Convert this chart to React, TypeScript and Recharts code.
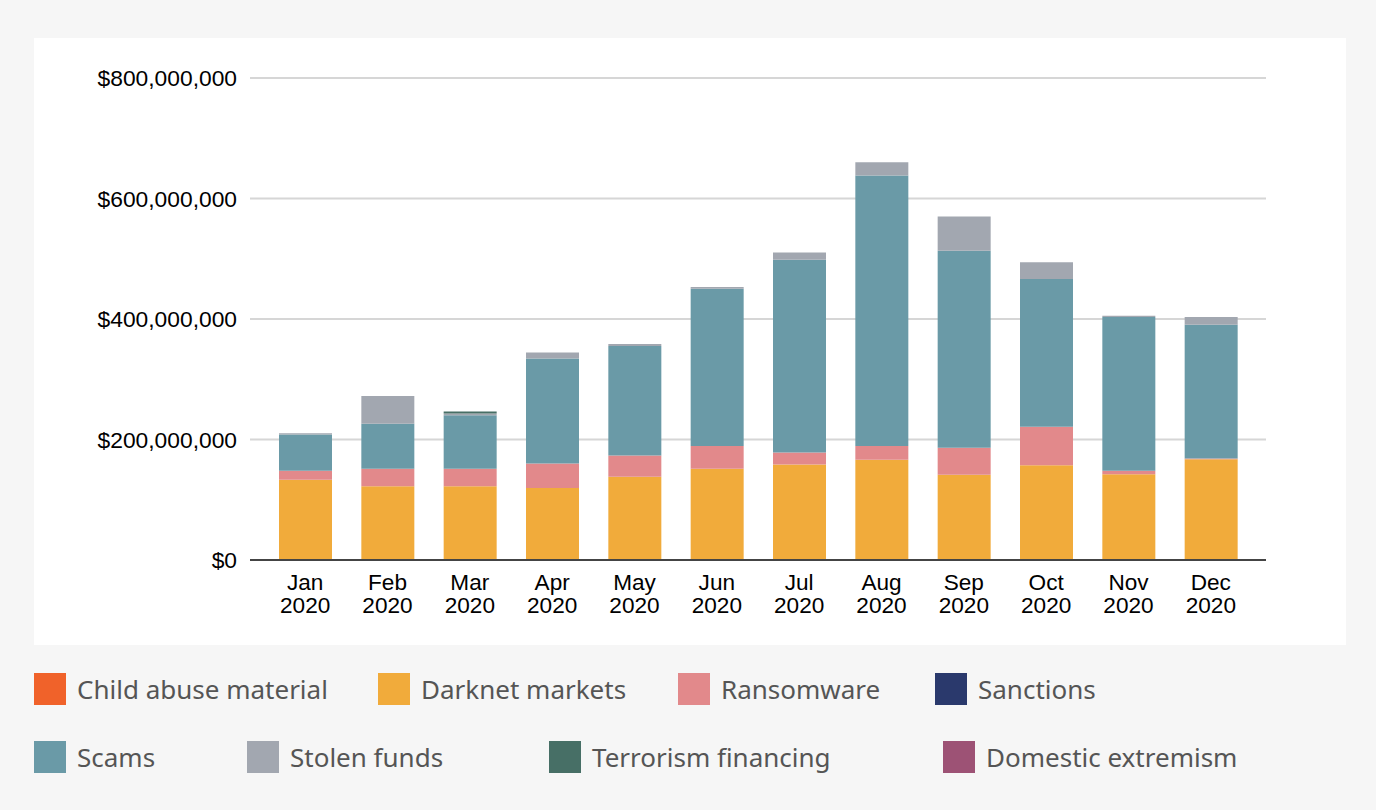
import { BarChart, Bar, XAxis, YAxis, CartesianGrid } from "recharts";

// monthly value received by illicit addresses, in millions of USD
const months = ["Jan", "Feb", "Mar", "Apr", "May", "Jun", "Jul", "Aug", "Sep", "Oct", "Nov", "Dec"];
const year = "2020";

const childAbuse = [0.3, 0.3, 0.3, 0.3, 0.3, 0.3, 0.3, 0.3, 0.3, 0.3, 0.3, 0.3];
const darknet = [133, 122, 122, 119, 138, 151, 158, 166, 141, 157, 142, 167];
const ransomware = [15, 29, 29, 41, 35, 38, 20, 23, 45, 64, 6, 1];
const sanctions = [0, 0, 0, 0, 0, 0, 0, 0, 0, 0, 0, 0];
const scams = [60, 75, 89, 174, 182, 261, 320, 449, 327, 245, 255, 222];
const stolen = [2, 46, 3, 10, 3, 3, 12, 22, 57, 28, 2, 13];
const terrorism = [0, 0, 3, 0, 0, 0, 0, 0, 0, 0, 0, 0];
const domestic = [0, 0, 0, 0, 0, 0, 0, 0, 0, 0, 0, 0];

const yTicks = [0, 200e6, 400e6, 600e6, 800e6];

const series = [
  { key: "childAbuse", name: "Child abuse material", color: "#F0622A", values: childAbuse },
  { key: "darknet", name: "Darknet markets", color: "#F1AB3B", values: darknet },
  { key: "ransomware", name: "Ransomware", color: "#E2898B", values: ransomware },
  { key: "sanctions", name: "Sanctions", color: "#2A396C", values: sanctions },
  { key: "scams", name: "Scams", color: "#6A9AA7", values: scams },
  { key: "stolen", name: "Stolen funds", color: "#A2A7B0", values: stolen },
  { key: "terrorism", name: "Terrorism financing", color: "#476F66", values: terrorism },
  { key: "domestic", name: "Domestic extremism", color: "#9D5275", values: domestic },
];

// legend layout (left offset of each item, two rows of four)
const legendLeft = [34, 378, 678, 935, 34, 247, 549, 943];
const legendTop = [673, 741];

const data = months.map((m, i) => {
  const row: Record<string, number | string> = { month: m };
  series.forEach((s) => {
    row[s.key] = s.values[i] * 1e6;
  });
  return row;
});

const fmtMoney = (v: number) => "$" + v.toLocaleString("en-US");

const axisFont = "'Liberation Sans', Arial, sans-serif";

const MonthTick = (props: any) => {
  const { x, y, payload } = props;
  return (
    <text x={x} y={y} textAnchor="middle" fill="#000" fontSize={22.6} fontFamily={axisFont}>
      <tspan x={x} dy={28}>
        {payload.value}
      </tspan>
      <tspan x={x} dy={23}>
        {year}
      </tspan>
    </text>
  );
};

const App = () => {
  return (
    <div
      style={{
        position: "absolute",
        left: 0,
        top: 0,
        width: 1376,
        height: 810,
        background: "#f6f6f6",
      }}
    >
      <div
        style={{
          position: "absolute",
          left: 34,
          top: 38,
          width: 1312,
          height: 607,
          background: "#fff",
        }}
      >
        <BarChart
          width={1312}
          height={607}
          data={data}
          margin={{ top: 40, right: 80, left: 0, bottom: 0 }}
        >
          <CartesianGrid vertical={false} stroke="#d6d6d6" strokeWidth={2} />
          <XAxis
            dataKey="month"
            height={85}
            tickSize={0}
            tick={<MonthTick />}
            axisLine={{ stroke: "#444", strokeWidth: 2 }}
            padding={{ left: 14, right: 14 }}
            interval={0}
          />
          <YAxis
            width={216}
            domain={[0, 800e6]}
            ticks={yTicks}
            tickFormatter={fmtMoney}
            axisLine={false}
            tickSize={0}
            tickMargin={13}
            tick={{ fill: "#000", fontSize: 22.8, fontFamily: axisFont }}
          />
          {series.map((s) => (
            <Bar
              key={s.key}
              dataKey={s.key}
              name={s.name}
              stackId="a"
              fill={s.color}
              barSize={53}
              isAnimationActive={false}
            />
          ))}
        </BarChart>
      </div>
      {series.map((s, i) => (
        <div
          key={s.key}
          style={{
            position: "absolute",
            left: legendLeft[i],
            top: legendTop[Math.floor(i / 4)],
            height: 32,
            display: "flex",
            alignItems: "center",
            fontFamily: "'Noto Sans', sans-serif",
            fontSize: 26,
            color: "#555",
            whiteSpace: "nowrap",
          }}
        >
          <span
            style={{
              display: "inline-block",
              width: 32,
              height: 32,
              background: s.color,
              marginRight: 11,
            }}
          />
          {s.name}
        </div>
      ))}
    </div>
  );
};

export default App;
